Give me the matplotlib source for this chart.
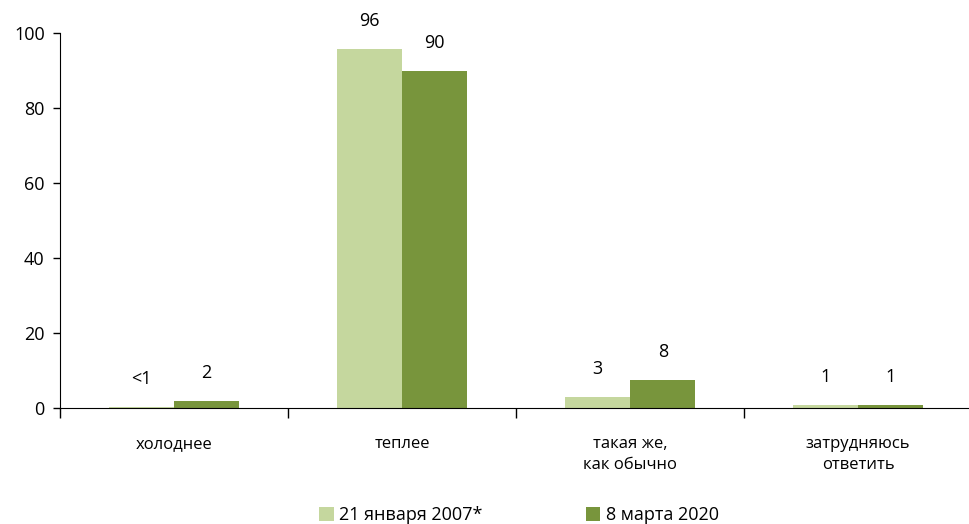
import matplotlib
matplotlib.use("Agg")
import matplotlib.pyplot as plt
import numpy as np

plt.rcParams["font.family"] = ["Open Sans", "DejaVu Sans"]

categories = ["холоднее", "теплее", "такая же,\nкак обычно", "затрудняюсь\nответить"]
series_names = ["21 января 2007*", "8 марта 2020"]
values_2007 = [0.3, 95.7, 2.9, 0.9]
values_2020 = [1.9, 89.9, 7.5, 0.9]
labels_2007 = ["<1", "96", "3", "1"]
labels_2020 = ["2", "90", "8", "1"]
colors = ["#c5d79e", "#78953c"]

W, H = 970, 524
fig = plt.figure(figsize=(W / 100, H / 100), dpi=100)
ax = fig.add_axes([60 / W, 1 - 408 / H, 912 / W, 375 / H])

x = np.arange(len(categories))
bw = 0.287
b1 = ax.bar(x - bw / 2, values_2007, bw, color=colors[0], label=series_names[0])
b2 = ax.bar(x + bw / 2, values_2020, bw, color=colors[1], label=series_names[1])

for bars, labs in [(b1, labels_2007), (b2, labels_2020)]:
    for rect, lab in zip(bars, labs):
        ax.annotate(lab, (rect.get_x() + rect.get_width() / 2, rect.get_height()),
                    xytext=(0, 20), textcoords="offset points",
                    ha="center", va="center", fontsize=13)

ax.set_xlim(-0.5, 3.5)
ax.set_ylim(0, 100)
ax.set_yticks([0, 20, 40, 60, 80, 100])
ax.set_xticks(np.arange(-0.5, 3.6, 1))
ax.set_xticklabels([])
ax.set_xticks(x, minor=True)
ax.set_xticklabels(categories, minor=True, fontsize=12)
ax.tick_params(axis="x", which="major", length=7, width=1, direction="out")
ax.tick_params(axis="x", which="minor", length=0, pad=20)
ax.tick_params(axis="y", length=5, width=1, labelsize=13, pad=6)
for lab in ax.get_xticklabels(minor=True):
    lab.set_linespacing(1.45)

ax.spines["top"].set_visible(False)
ax.spines["right"].set_visible(False)
ax.spines["bottom"].set_zorder(5)

fig.legend(handles=[b1, b2], loc="center", bbox_to_anchor=(519 / W, 1 - 515 / H),
           ncol=2, frameon=False, fontsize=13, handlelength=0.8, handleheight=0.8,
           handletextpad=0.3, columnspacing=5.7)

fig.savefig("out.png", dpi=100)
